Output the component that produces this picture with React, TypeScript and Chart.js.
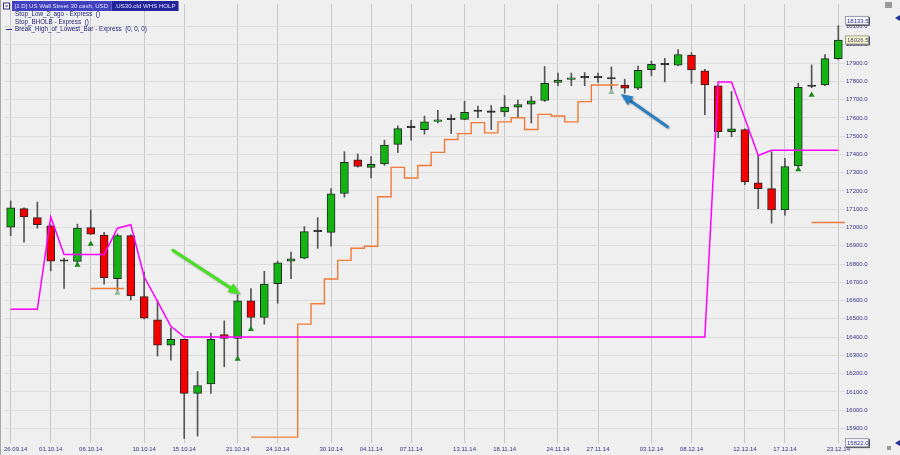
import React, { useEffect, useRef } from 'react';
import { Chart, registerables } from 'chart.js';

Chart.register(...registerables);

// ---------- data ----------
const DATES = [
  '26.09.14', '29.09.14', '30.09.14',
  '01.10.14', '02.10.14', '03.10.14', '06.10.14', '07.10.14', '08.10.14', '09.10.14', '10.10.14',
  '13.10.14', '14.10.14', '15.10.14', '16.10.14', '17.10.14', '20.10.14', '21.10.14', '22.10.14',
  '23.10.14', '24.10.14', '27.10.14', '28.10.14', '29.10.14', '30.10.14', '31.10.14',
  '03.11.14', '04.11.14', '05.11.14', '06.11.14', '07.11.14', '10.11.14', '11.11.14', '12.11.14',
  '13.11.14', '14.11.14', '17.11.14', '18.11.14', '19.11.14', '20.11.14', '21.11.14', '24.11.14',
  '25.11.14', '26.11.14', '27.11.14', '28.11.14',
  '01.12.14', '02.12.14', '03.12.14', '04.12.14', '05.12.14', '08.12.14', '09.12.14', '10.12.14',
  '11.12.14', '12.12.14', '15.12.14', '16.12.14', '17.12.14', '18.12.14', '19.12.14', '22.12.14', '23.12.14',
];

const OPEN = [
  17002, 17103, 17054, 17009, 16815, 16814, 17000, 16958, 16720, 16955,
  16621, 16495, 16356, 16387, 16092, 16143, 16414, 16392, 16598, 16507,
  16693, 16816, 16832, 16977, 16973, 17186, 17370, 17329, 17348, 17455,
  17547, 17536, 17581, 17590, 17592, 17635, 17630, 17632, 17659, 17675,
  17695, 17794, 17810, 17819, 17819, 17813, 17780, 17762, 17864, 17890,
  17888, 17944, 17857, 17776, 17524, 17536, 17244, 17213, 17096, 17337,
  17772, 17781, 17924,
];
const HIGH = [
  17145, 17108, 17139, 17015, 16832, 17018, 17096, 16973, 16965, 16960,
  16756, 16598, 16449, 16390, 16211, 16422, 16489, 16630, 16666, 16760,
  16815, 16865, 17005, 17054, 17213, 17415, 17403, 17388, 17478, 17556,
  17586, 17610, 17641, 17617, 17691, 17664, 17668, 17722, 17698, 17718,
  17881, 17845, 17845, 17848, 17845, 17879, 17812, 17884, 17911, 17926,
  17974, 17957, 17866, 17780, 17745, 17540, 17392, 17415, 17379, 17790,
  17890, 17947, 18105,
];
const LOW = [
  16955, 16919, 16996, 16762, 16666, 16801, 16962, 16690, 16650, 16603,
  16500, 16296, 16273, 15845, 15858, 16092, 16237, 16278, 16449, 16471,
  16585, 16720, 16828, 16886, 16897, 17166, 17330, 17271, 17340, 17410,
  17478, 17511, 17572, 17514, 17590, 17601, 17536, 17608, 17605, 17572,
  17690, 17776, 17776, 17776, 17794, 17749, 17735, 17754, 17830, 17797,
  17885, 17789, 17617, 17491, 17496, 17234, 17103, 17023, 17067, 17316,
  17765, 17776, 17920,
];
const CLOSE = [
  17108, 17058, 17015, 16816, 16815, 16996, 16964, 16724, 16955, 16625,
  16504, 16356, 16387, 16092, 16134, 16387, 16392, 16598, 16507, 16690,
  16807, 16828, 16978, 16977, 17184, 17356, 17334, 17346, 17451, 17541,
  17547, 17578, 17589, 17590, 17630, 17635, 17630, 17659, 17673, 17693,
  17789, 17807, 17819, 17819, 17819, 17813, 17762, 17861, 17893, 17890,
  17947, 17863, 17780, 17524, 17540, 17249, 17213, 17096, 17334, 17767,
  17772, 17924, 18026.5,
];

// Stop_Low_2_ago / Stop_BHOLB (orange step line)
const STOP_LINE: (number | null)[] = [
  null, null, null, null, null, null, 16666, 16666, 16666, null,
  null, null, null, null, null, null, null, null, 15852, 15852,
  15852, 15852, 16471, 16582, 16718, 16820, 16886, 16897, 17168, 17329,
  17271, 17339, 17411, 17482, 17514, 17574, 17518, 17578, 17601, 17536,
  17619, 17610, 17578, 17689, 17780, 17780, null, null, null, null,
  null, null, null, null, null, null, null, null, null, null,
  17027, 17027, 17027,
];

// Break_High_of_Lowest_Bar (magenta)
const BREAK_LINE = [
  16552, 16552, 16552, 17058, 16852, 16852, 16852, 16852, 16996, 17015,
  16730, 16595, 16459, 16400, 16400, 16400, 16400, 16400, 16400, 16400,
  16400, 16400, 16400, 16400, 16400, 16400, 16400, 16400, 16400, 16400,
  16400, 16400, 16400, 16400, 16400, 16400, 16400, 16400, 16400, 16400,
  16400, 16400, 16400, 16400, 16400, 16400, 16400, 16400, 16400, 16400,
  16400, 16400, 16400, 17796, 17796, 17596, 17394, 17423, 17423, 17423,
  17423, 17423, 17423,
];

// stop markers (triangles)
const MARK_DARK: (number | null)[] = DATES.map(() => null);
MARK_DARK[5] = 16795; MARK_DARK[6] = 16910; MARK_DARK[17] = 16280; MARK_DARK[18] = 16443;
MARK_DARK[59] = 17318; MARK_DARK[60] = 17725;
const MARK_LIGHT: (number | null)[] = DATES.map(() => null);
MARK_LIGHT[8] = 16641; MARK_LIGHT[45] = 17740;

const TICK_DATES = [
  '26.09.14', '01.10.14', '06.10.14', '10.10.14', '15.10.14', '21.10.14', '24.10.14', '30.10.14',
  '04.11.14', '07.11.14', '13.11.14', '18.11.14', '24.11.14', '27.11.14', '03.12.14', '08.12.14',
  '12.12.14', '17.12.14', '23.12.14',
];

const PRICE_STEP = 100;
const RANGE_HIGH = 18133.5;
const RANGE_LOW = 15822.0;
const LAST_CLOSE = 18026.5;
const Y_MIN = 15820;
const Y_MAX = 18223.5;

const LEGEND_TITLE = '[1 D] US Wall Street 30 cash, USD';
const LEGEND_SYMBOL = '.US30.cfd WHS HOLP';
const LEGEND_LINES = [
  'Stop_Low_2_ago - Express  ()',
  'Stop_BHOLB - Express  ()',
  'Break_High_of_Lowest_Bar - Express  (0, 0, 0)',
];

// annotation arrows in (bar index, price)
const ARROWS = [
  { from: [12.15, 16875], to: [17.2, 16635], color: '#45e020' },
  { from: [49.2, 17552], to: [45.7, 17731], color: '#2a7fc2' },
];

const FONT = '"Liberation Sans", Arial, sans-serif';
const TXT = '#34348c';

function drawArrow(ctx: CanvasRenderingContext2D, x1: number, y1: number, x2: number, y2: number, color: string) {
  const ang = Math.atan2(y2 - y1, x2 - x1);
  const head = 13;
  ctx.save();
  ctx.shadowColor = 'rgba(0,0,0,0.35)';
  ctx.shadowBlur = 2;
  ctx.shadowOffsetX = 1;
  ctx.shadowOffsetY = 1;
  ctx.strokeStyle = color;
  ctx.lineWidth = 3;
  ctx.lineCap = 'round';
  ctx.beginPath();
  ctx.moveTo(x1, y1);
  ctx.lineTo(x2 - head * 0.7 * Math.cos(ang), y2 - head * 0.7 * Math.sin(ang));
  ctx.stroke();
  ctx.fillStyle = color;
  ctx.beginPath();
  ctx.moveTo(x2, y2);
  ctx.lineTo(x2 - head * Math.cos(ang - 0.42), y2 - head * Math.sin(ang - 0.42));
  ctx.lineTo(x2 - head * Math.cos(ang + 0.42), y2 - head * Math.sin(ang + 0.42));
  ctx.closePath();
  ctx.fill();
  ctx.restore();
}

function drawValueBox(ctx: CanvasRenderingContext2D, y: number, text: string, bg: string) {
  const x = 845;
  const w = 24;
  const h = 9;
  ctx.fillStyle = bg;
  ctx.fillRect(x, y - h / 2, w, h);
  ctx.strokeStyle = '#9a9aa8';
  ctx.lineWidth = 1;
  ctx.strokeRect(x + 0.5, y - h / 2 + 0.5, w - 1, h - 1);
  ctx.strokeStyle = '#505058';
  ctx.beginPath();
  ctx.moveTo(x + w + 0.5, y - h / 2 + 1);
  ctx.lineTo(x + w + 0.5, y + h / 2 + 0.5);
  ctx.lineTo(x + 1, y + h / 2 + 0.5);
  ctx.stroke();
  ctx.fillStyle = TXT;
  ctx.font = `6px ${FONT}`;
  ctx.textAlign = 'left';
  ctx.textBaseline = 'middle';
  ctx.fillText(text, x + 2, y + 0.5);
}

const decorPlugin = {
  id: 'decor',
  beforeDraw(chart: any) {
    const ctx = chart.ctx as CanvasRenderingContext2D;
    ctx.save();
    ctx.fillStyle = '#efefef';
    ctx.fillRect(0, 0, chart.width, chart.height);
    ctx.restore();
  },
  afterDraw(chart: any) {
    const ctx = chart.ctx as CanvasRenderingContext2D;
    const xs = chart.scales.x;
    const ys = chart.scales.y;
    ctx.save();

    // x labels
    ctx.font = `6px ${FONT}`;
    ctx.fillStyle = TXT;
    ctx.textBaseline = 'middle';
    ctx.textAlign = 'left';
    TICK_DATES.forEach((d) => {
      const i = DATES.indexOf(d);
      const px = xs.getPixelForValue(i);
      const w = ctx.measureText(d).width;
      let left = px - w / 2;
      if (left < 4) left = 4;
      ctx.fillText(d, left, 449);
    });

    // arrows
    ARROWS.forEach((a) => {
      drawArrow(
        ctx,
        xs.getPixelForValue(a.from[0]), ys.getPixelForValue(a.from[1]),
        xs.getPixelForValue(a.to[0]), ys.getPixelForValue(a.to[1]),
        a.color,
      );
    });

    // value boxes on the price axis
    drawValueBox(ctx, ys.getPixelForValue(RANGE_HIGH), RANGE_HIGH.toFixed(1), '#f6f6ff');
    drawValueBox(ctx, ys.getPixelForValue(LAST_CLOSE), LAST_CLOSE.toFixed(1), '#ffffc4');
    drawValueBox(ctx, ys.getPixelForValue(RANGE_LOW), RANGE_LOW.toFixed(1), '#f6f6ff');

    // legend header
    ctx.font = `6.1px ${FONT}`;
    ctx.textBaseline = 'middle';
    ctx.textAlign = 'left';
    const titleW = ctx.measureText(LEGEND_TITLE).width;
    const symW = ctx.measureText(LEGEND_SYMBOL).width;
    ctx.fillStyle = '#4040c0';
    ctx.fillRect(12, 1, titleW + 6, 10);
    ctx.fillStyle = '#24249a';
    ctx.fillRect(12 + titleW + 6, 1, symW + 6, 10);
    ctx.fillStyle = '#e4e4ff';
    ctx.fillText(LEGEND_TITLE, 14.5, 6.5);
    ctx.fillText(LEGEND_SYMBOL, 12 + titleW + 9, 6.5);
    // collapse icon
    ctx.fillStyle = '#ffffff';
    ctx.fillRect(3, 2.5, 7, 7);
    ctx.strokeStyle = '#303080';
    ctx.lineWidth = 1;
    ctx.strokeRect(3.5, 3, 6, 6);
    ctx.beginPath();
    ctx.moveTo(5, 6);
    ctx.lineTo(8, 6);
    ctx.stroke();

    ctx.font = `6.3px ${FONT}`;
    ctx.fillStyle = '#24247a';
    LEGEND_LINES.forEach((t, k) => {
      ctx.fillText(t, 15, 14.5 + k * 7.6);
    });
    ctx.strokeStyle = '#3030a0';
    ctx.beginPath();
    ctx.moveTo(6, 29.5);
    ctx.lineTo(12, 29.5);
    ctx.stroke();

    // small frame / icons
    ctx.strokeStyle = '#a8a8a8';
    ctx.beginPath();
    ctx.moveTo(0.5, 0);
    ctx.lineTo(0.5, chart.height);
    ctx.stroke();
    ctx.fillStyle = '#9a9a9a';
    ctx.fillRect(885, 2, 7, 6);
    ctx.fillRect(887, 446, 4, 4);
    ctx.fillStyle = '#2030a0';
    [[900, 18], [900, 443]].forEach(([ax, ay]) => {
      ctx.beginPath();
      ctx.moveTo(ax - 5, ay);
      ctx.lineTo(ax, ay - 3);
      ctx.lineTo(ax, ay + 3);
      ctx.closePath();
      ctx.fill();
    });

    ctx.restore();
  },
};

function buildStepData(values: (number | null)[]) {
  const out: { x: number; y: number | null }[] = [];
  values.forEach((v, i) => {
    out.push({ x: i, y: v });
    const next = i + 1 < values.length ? values[i + 1] : null;
    if (v !== null && next === null) out.push({ x: i + 0.5, y: v });
  });
  return out;
}

export default function App() {
  const ref = useRef<HTMLCanvasElement>(null);

  useEffect(() => {
    document.body.style.margin = '0';
    const idx = DATES.map((_, i) => i);
    const bodyColors = idx.map((i) =>
      CLOSE[i] > OPEN[i] ? '#12b312' : CLOSE[i] < OPEN[i] ? '#f20000' : '#151515',
    );

    const chart = new Chart(ref.current as HTMLCanvasElement, {
      data: {
        datasets: [
          {
            type: 'line',
            label: 'Break_High_of_Lowest_Bar',
            data: idx.map((i) => ({ x: i, y: BREAK_LINE[i] })),
            borderColor: '#ff00ff',
            borderWidth: 1.5,
            pointRadius: 0,
            order: 0,
          } as any,
          {
            type: 'line',
            label: 'Stop_Low_2_ago',
            data: buildStepData(STOP_LINE),
            borderColor: '#f27a38',
            borderWidth: 1.4,
            pointRadius: 0,
            stepped: 'middle',
            spanGaps: false,
            order: 0,
          } as any,
          {
            type: 'line',
            label: 'stop marks',
            data: idx.map((i) => ({ x: i, y: MARK_DARK[i] })),
            showLine: false,
            pointStyle: 'triangle',
            pointRadius: 3.5,
            pointBorderWidth: 0,
            pointBackgroundColor: '#178a17',
            order: 0,
          } as any,
          {
            type: 'line',
            label: 'stop marks light',
            data: idx.map((i) => ({ x: i, y: MARK_LIGHT[i] })),
            showLine: false,
            pointStyle: 'triangle',
            pointRadius: 3.5,
            pointBorderWidth: 0,
            pointBackgroundColor: '#8cb896',
            order: 0,
          } as any,
          {
            type: 'bar',
            label: 'body',
            data: idx.map((i) => ({ x: i, y: [OPEN[i], CLOSE[i]] })),
            backgroundColor: bodyColors,
            borderColor: '#262626',
            borderWidth: 1,
            borderSkipped: false,
            barThickness: 8,
            minBarLength: 1.5,
            grouped: false,
            order: 1,
          } as any,
          {
            type: 'bar',
            label: 'wick',
            data: idx.map((i) => ({ x: i, y: [LOW[i], HIGH[i]] })),
            backgroundColor: '#555555',
            borderWidth: 0,
            barThickness: 1,
            grouped: false,
            order: 2,
          } as any,
        ],
      },
      options: {
        responsive: false,
        animation: false,
        devicePixelRatio: 1,
        layout: { padding: { left: 4, top: 0, right: 0, bottom: 0 } },
        plugins: {
          legend: { display: false },
          tooltip: { enabled: false },
        },
        scales: {
          x: {
            type: 'linear',
            min: -0.5,
            max: 62.5,
            offset: false,
            afterBuildTicks: (scale: any) => {
              scale.ticks = TICK_DATES.map((d) => ({ value: DATES.indexOf(d) }));
            },
            afterFit: (scale: any) => {
              scale.height = 12;
              scale.paddingLeft = 0;
              scale.paddingRight = 0;
            },
            ticks: { display: false },
            grid: { color: '#c9c9c9', drawTicks: false, lineWidth: 1, offset: false },
            border: { display: false },
          },
          y: {
            type: 'linear',
            position: 'right',
            min: Y_MIN,
            max: Y_MAX,
            afterBuildTicks: (scale: any) => {
              const ticks: { value: number }[] = [];
              for (let v = Math.ceil(RANGE_LOW / PRICE_STEP) * PRICE_STEP; v <= RANGE_HIGH; v += PRICE_STEP) {
                ticks.push({ value: v });
              }
              scale.ticks = ticks;
            },
            afterFit: (scale: any) => {
              scale.width = 55;
              scale.paddingTop = 0;
              scale.paddingBottom = 0;
            },
            ticks: {
              autoSkip: false,
              padding: 1,
              color: TXT,
              font: { size: 6, family: FONT },
              callback: (v: any) => Number(v).toFixed(1),
            },
            grid: { color: '#dcdcdc', drawTicks: false, lineWidth: 1 },
            border: { display: false },
          },
        },
      } as any,
      plugins: [decorPlugin],
    });

    return () => chart.destroy();
  }, []);

  return (
    <div style={{ width: 900, height: 455 }}>
      <canvas ref={ref} width={900} height={455} style={{ display: 'block' }} />
    </div>
  );
}
